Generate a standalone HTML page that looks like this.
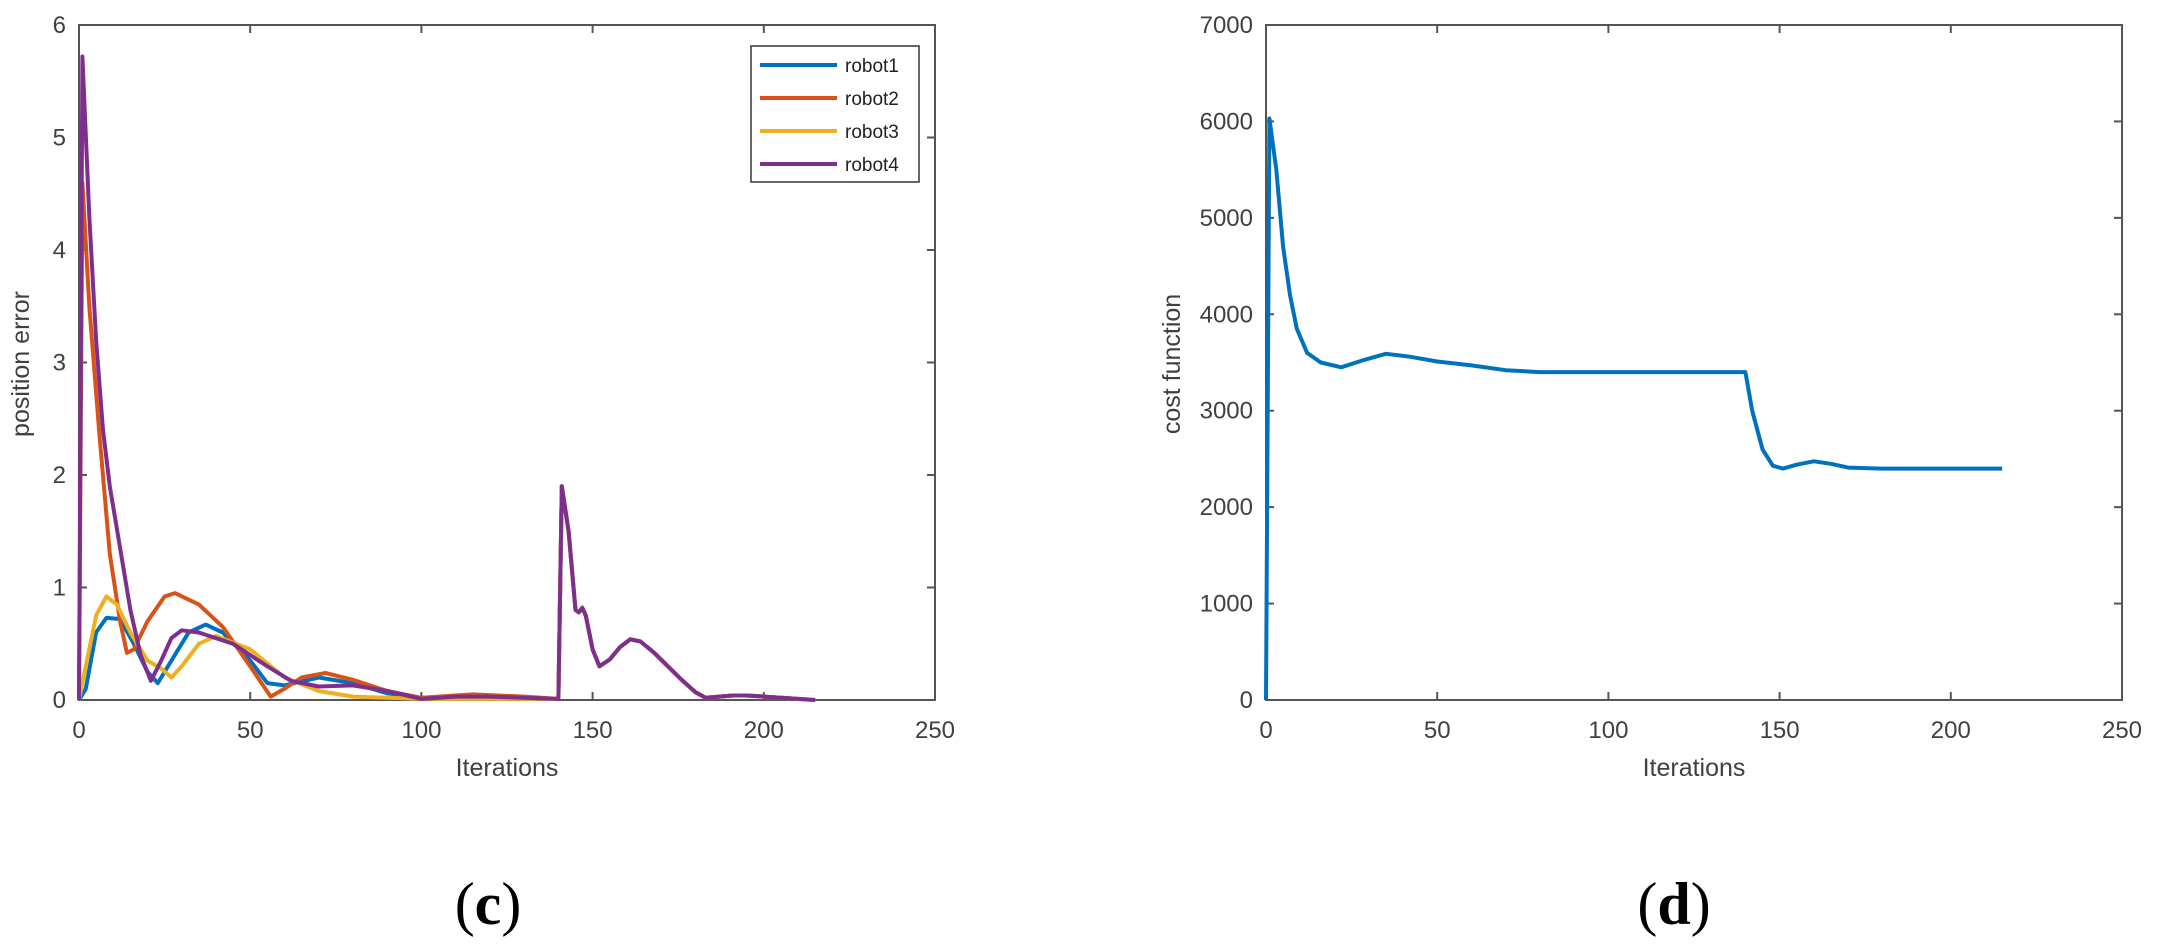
<!DOCTYPE html>
<html><head><meta charset="utf-8">
<style>
html,body{margin:0;padding:0;background:#fff;}
svg{display:block;font-family:"Liberation Sans",Arial,sans-serif;}
</style></head>
<body>
<svg id="fig" width="2158" height="950" viewBox="0 0 2158 950"></svg>
<script>
// ---- data: panel (c) position error ----
const xTicks = [0, 50, 100, 150, 200, 250];
const errTicks = [0, 1, 2, 3, 4, 5, 6];
const costTicks = [0, 1000, 2000, 3000, 4000, 5000, 6000, 7000];
const robotNames = ["robot1", "robot2", "robot3", "robot4"];
const tailX = [141,143,145,146,147,148,150,152,155,158,161,164,168,172,176,180,183,187,191,195,200,205,210,215];
const tailY = [1.9,1.5,0.8,0.78,0.82,0.75,0.45,0.3,0.36,0.47,0.54,0.52,0.42,0.3,0.18,0.07,0.02,0.03,0.04,0.04,0.03,0.02,0.01,0.0];
const r1X = [0,2,5,8,12,16,20,23,27,32,37,42,50,55,60,70,80,90,100,115,130,140];
const r1Y = [0,0.1,0.6,0.73,0.72,0.5,0.25,0.15,0.35,0.6,0.67,0.6,0.35,0.15,0.13,0.2,0.15,0.06,0.02,0.03,0.02,0.01];
const r2X = [0,1,3,6,9,12,14,16,20,25,28,35,42,50,56,60,65,72,80,90,100,115,130,140];
const r2Y = [0,4.6,3.5,2.35,1.3,0.7,0.42,0.45,0.7,0.92,0.95,0.85,0.65,0.3,0.03,0.1,0.2,0.24,0.18,0.08,0.02,0.05,0.03,0.01];
const r3X = [0,2,5,8,11,15,20,24,27,30,35,40,50,60,70,80,100,120,140];
const r3Y = [0,0.3,0.75,0.92,0.85,0.6,0.35,0.28,0.2,0.3,0.5,0.57,0.45,0.2,0.08,0.03,0.01,0.01,0.01];
const r4X = [0,1,3,5,7,9,12,15,18,21,24,27,30,35,45,55,62,70,80,90,100,110,120,140];
const r4Y = [0,5.72,4.3,3.2,2.4,1.9,1.35,0.8,0.4,0.17,0.35,0.55,0.62,0.6,0.5,0.3,0.17,0.12,0.13,0.08,0.01,0.03,0.03,0.01];
// ---- data: panel (d) cost function ----
const costX = [0,1,3,5,7,9,12,16,22,28,35,42,50,60,70,80,100,120,140,142,145,148,151,155,160,165,170,180,200,215];
const costY = [0,6030,5500,4700,4200,3850,3600,3500,3450,3520,3590,3560,3510,3470,3420,3400,3400,3400,3400,3000,2600,2430,2400,2440,2475,2450,2410,2400,2400,2400];

const NS = "http://www.w3.org/2000/svg";
const svg = document.getElementById("fig");
function mk(tag, attrs, parent) {
  const e = document.createElementNS(NS, tag);
  for (const k in attrs) e.setAttribute(k, attrs[k]);
  (parent || svg).appendChild(e);
  return e;
}
function panel(L, T, R, B, xmax, ymax, yTicks, yTitle, yTitleX, capX, letter, prefix) {
  const g = mk("g", {});
  
  
  const sx = v => L + (v / xmax) * (R - L);
  const sy = v => B - (v / ymax) * (B - T);
  const box = mk("rect", {x: L, y: T, width: R - L, height: B - T, fill: "none", stroke: "#555", "stroke-width": 2}, g);
  
  
  xTicks.forEach(t => {
    const x = sx(t);
    mk("line", {x1: x, y1: B, x2: x, y2: B - 8, stroke: "#555", "stroke-width": 2}, g);
    mk("line", {x1: x, y1: T, x2: x, y2: T + 8, stroke: "#555", "stroke-width": 2}, g);
    const tx = mk("text", {x: x, y: B + 38, "text-anchor": "middle", "font-size": 24, fill: "#404040"}, g);
    tx.textContent = t;
    
    
  });
  yTicks.forEach(t => {
    const y = sy(t);
    mk("line", {x1: L, y1: y, x2: L + 8, y2: y, stroke: "#555", "stroke-width": 2}, g);
    mk("line", {x1: R, y1: y, x2: R - 8, y2: y, stroke: "#555", "stroke-width": 2}, g);
    const tx = mk("text", {x: L - 13, y: y + 8, "text-anchor": "end", "font-size": 24, fill: "#404040"}, g);
    tx.textContent = t;
    
    
  });
  const xt = mk("text", {x: (L + R) / 2, y: 776, "text-anchor": "middle", "font-size": 25, fill: "#404040"}, g);
  xt.textContent = "Iterations";
  
  
  const yt = mk("text", {x: 0, y: 0, transform: `translate(${yTitleX},364) rotate(-90)`, "text-anchor": "middle", "font-size": 25, fill: "#404040"}, g);
  yt.textContent = yTitle;
  
  
  const cap = mk("text", {x: capX, y: 924, "text-anchor": "middle", "font-size": 60, "font-family": "Liberation Serif, serif", fill: "#000"}, g);
  cap.innerHTML = '(<tspan font-weight="bold">' + letter + '</tspan>)';
  
  
  return {sx, sy, g};
}
function series(ax, xs, ys, color, name) {
  const pts = xs.map((x, i) => ax.sx(x).toFixed(1) + "," + ax.sy(ys[i]).toFixed(1)).join(" ");
  const p = mk("polyline", {points: pts, fill: "none", stroke: color, "stroke-width": 4, "stroke-linejoin": "round"}, ax.g);
  
  
}
const A = panel(79, 25, 935, 700, 250, 6, errTicks, "position error", 29, 488, "c", "error");
const colors = ["#0072BD", "#D95319", "#EDB120", "#7E2F8E"];
const rx = [r1X, r2X, r3X, r4X], ry = [r1Y, r2Y, r3Y, r4Y];
for (let i = 0; i < 4; i++) {
  series(A, rx[i].concat(tailX), ry[i].concat(tailY), colors[i], robotNames[i] + "-line");
}
// legend
const lg = mk("g", {});


mk("rect", {x: 751, y: 46, width: 168, height: 136, fill: "#fff", stroke: "#333", "stroke-width": 1.5}, lg);
for (let i = 0; i < 4; i++) {
  const y = 65 + i * 33;
  const e = mk("g", {}, lg);
  
  
  mk("line", {x1: 760, y1: y, x2: 837, y2: y, stroke: colors[i], "stroke-width": 4}, e);
  const t = mk("text", {x: 845, y: y + 7, "font-size": 19, fill: "#222"}, e);
  t.textContent = robotNames[i];
}
const B2 = panel(1266, 25, 2122, 700, 250, 7000, costTicks, "cost function", 1180, 1674, "d", "cost");
series(B2, costX, costY, "#0072BD", "cost-line");
</script>
</body></html>
